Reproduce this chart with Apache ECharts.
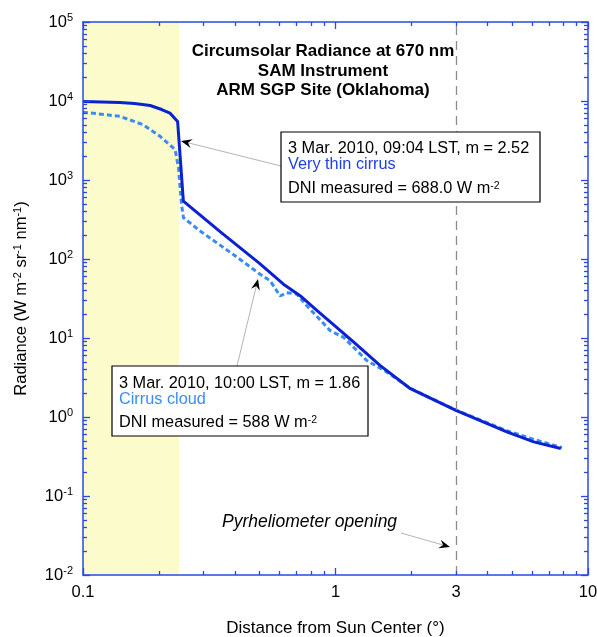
<!DOCTYPE html>
<html><head><meta charset="utf-8">
<script src="https://cdn.jsdelivr.net/npm/echarts@6/dist/echarts.min.js"></script>
<style>html,body{margin:0;padding:0;background:#fff}#c{width:597px;height:637px}</style>
</head><body><div id="c"></div>
<script>
// ---- data ----
const thinX = [0.1, 0.14, 0.16, 0.1845, 0.205, 0.221, 0.237, 0.2497, 0.35, 0.5, 0.622, 0.724, 0.85, 1.0, 1.16, 1.5, 1.98, 3.0, 4.77, 6.1, 7.8];
const thinY = [9860, 9570, 9300, 8770, 7800, 7020, 5510, 540, 220, 88, 48, 34.3, 21.9, 14.0, 9.3, 4.5, 2.28, 1.21, 0.647, 0.484, 0.40];
const cirrusX = [0.1, 0.14, 0.173, 0.202, 0.2316, 0.239, 0.2455, 0.25, 0.291, 0.40, 0.503, 0.551, 0.604, 0.64, 0.703, 0.77, 0.953, 1.076, 1.33, 1.6, 1.98, 3.0, 4.77, 6.1, 7.89];
const cirrusY = [7230, 6400, 5010, 3570, 2430, 1420, 490, 333, 226, 110, 64, 53, 34, 37.5, 36, 25.6, 12.4, 10.2, 5.19, 3.69, 2.3, 1.22, 0.67, 0.52, 0.41];
const sunBand = [0.1, 0.24];
const pyrheliometer = 3;
const xMajorTicks = [0.1, 1, 10];
const xTickLabels = [0.1, 1, 3, 10];
const xMinorTicks = [0.2, 0.3, 0.4, 0.5, 0.6, 0.7, 0.8, 0.9, 2, 3, 4, 5, 6, 7, 8, 9];
const yMajorTicks = [0.01, 0.1, 1, 10, 100, 1000, 10000, 100000];
const yMinorMultipliers = [2, 3, 4, 5, 6, 7, 8, 9];
const yMinorTicks = [];
yMajorTicks.slice(0, -1).forEach(d => yMinorMultipliers.forEach(m => yMinorTicks.push(+(d * m).toPrecision(3))));
const titleLines = ['Circumsolar Radiance at 670 nm', 'SAM Instrument', 'ARM SGP Site (Oklahoma)'];

// ---- style ----
const FONT = '"Liberation Sans", Arial, Helvetica, sans-serif';
const AXIS_BLUE = '#2a48e6';
const THIN_COLOR = '#0a22d2';
const CIRRUS_COLOR = '#3a8cf2';

const chart = echarts.init(document.getElementById('c'), null, {renderer: 'canvas'});

function xAxisDef(pos, ticks, len, showLine, showLabel) {
  return {
    type: 'log', logBase: 10, min: 0.1, max: 10, position: pos, z: 10,
    axisLine: {show: showLine, onZero: false, lineStyle: {color: AXIS_BLUE, width: 1.5}},
    axisTick: {show: true, inside: true, length: len, customValues: ticks, lineStyle: {color: AXIS_BLUE, width: 1.3}},
    axisLabel: showLabel ? {
      show: true, customValues: xTickLabels, margin: 9, color: '#000', fontSize: 16.5, fontFamily: FONT,
      formatter: v => String(+(+v).toPrecision(3))
    } : {show: false},
    splitLine: {show: false}, minorTick: {show: false}
  };
}
function yAxisDef(pos, ticks, len, showLine, showLabel) {
  return {
    type: 'log', logBase: 10, min: 0.01, max: 100000, position: pos, z: 10,
    axisLine: {show: showLine, onZero: false, lineStyle: {color: AXIS_BLUE, width: 1.5}},
    axisTick: {show: true, inside: true, length: len, customValues: ticks, lineStyle: {color: AXIS_BLUE, width: 1.3}},
    axisLabel: showLabel ? {
      show: true, customValues: yMajorTicks, margin: 10, color: '#000', fontFamily: FONT,
      formatter: v => '{b|10}{s|' + Math.round(Math.log10(v)) + '}',
      rich: {b: {fontSize: 16.5, fontFamily: FONT, color: '#000', lineHeight: 19}, s: {fontSize: 11, fontFamily: FONT, color: '#000', verticalAlign: 'top', lineHeight: 19}}
    } : {show: false},
    splitLine: {show: false}, minorTick: {show: false}
  };
}

const xAxes = [
  xAxisDef('bottom', xMajorTicks, 7, true, true),
  xAxisDef('bottom', xMinorTicks, 4, false, false),
  xAxisDef('top', xMajorTicks, 7, true, false),
  xAxisDef('top', xMinorTicks, 4, false, false)
];
Object.assign(xAxes[0], {
  name: 'Distance from Sun Center (°)', nameLocation: 'middle', nameGap: 45,
  nameTextStyle: {fontSize: 17, fontFamily: FONT, color: '#000'}
});
const yAxes = [
  yAxisDef('left', yMajorTicks, 7, true, true),
  yAxisDef('left', yMinorTicks, 4, false, false),
  yAxisDef('right', yMajorTicks, 7, true, false),
  yAxisDef('right', yMinorTicks, 4, false, false)
];
Object.assign(yAxes[0], {
  name: 'Radiance (W m{s|-2} sr{s|-1} nm{s|-1})', nameLocation: 'middle', nameGap: 53,
  nameTextStyle: {fontSize: 16.5, fontFamily: FONT, color: '#000',
    rich: {s: {fontSize: 11, fontFamily: FONT, color: '#000', verticalAlign: 'top', lineHeight: 18}}}
});

const option = {
  animation: false,
  backgroundColor: '#fff',
  textStyle: {fontFamily: FONT},
  grid: {left: 83, right: 9, top: 22, bottom: 62, containLabel: false, outerBoundsMode: 'none'},
  title: {
    text: titleLines.join('\n'), left: 318, top: 37, textAlign: 'center',
    textStyle: {fontSize: 17, fontWeight: 'bold', fontFamily: FONT, color: '#000', lineHeight: 19.5}
  },
  xAxis: xAxes,
  yAxis: yAxes,
  series: [
    {
      name: 'Cirrus cloud', type: 'line', xAxisIndex: 0, yAxisIndex: 0,
      data: cirrusX.map((x, i) => [x, cirrusY[i]]),
      showSymbol: false, z: 3,
      lineStyle: {color: CIRRUS_COLOR, width: 3, type: [5, 3]},
      markArea: {silent: true, itemStyle: {color: '#fbfbcc'}, data: [[{xAxis: sunBand[0]}, {xAxis: sunBand[1]}]]},
      markLine: {silent: true, symbol: 'none', label: {show: false},
        lineStyle: {color: '#8c8c8c', width: 1.3, type: [9, 6]}, data: [{xAxis: pyrheliometer}]}
    },
    {
      name: 'Very thin cirrus', type: 'line', xAxisIndex: 0, yAxisIndex: 0,
      data: thinX.map((x, i) => [x, thinY[i]]),
      showSymbol: false, z: 4,
      lineStyle: {color: THIN_COLOR, width: 3}
    }
  ]
};
chart.setOption(option);

// ---- annotations ----
function arrow(x1, y1, x2, y2) {
  const dx = x2 - x1, dy = y2 - y1, L = Math.hypot(dx, dy);
  const ux = dx / L, uy = dy / L, nx = -uy, ny = ux;
  const hl = 11, hw = 4.5;
  return [
    {type: 'line', shape: {x1, y1, x2: x2 - ux * 6, y2: y2 - uy * 6}, style: {stroke: '#b4b4b4', lineWidth: 1}, z: 10},
    {type: 'polygon', shape: {points: [
      [x2, y2],
      [x2 - ux * hl + nx * hw, y2 - uy * hl + ny * hw],
      [x2 - ux * hl * 0.65, y2 - uy * hl * 0.65],
      [x2 - ux * hl - nx * hw, y2 - uy * hl - ny * hw]
    ]}, style: {fill: '#000'}, z: 10}
  ];
}
function box(x, y, w, h, lines) {
  const els = [{type: 'rect', shape: {x, y, width: w, height: h}, style: {fill: '#fff', stroke: '#000', lineWidth: 1.2}, z: 10}];
  lines.forEach(l => els.push({
    type: 'text', x: x + 7, y: y + l.dy, z: 11,
    style: {text: l.text, fill: l.color || '#000', font: '16.3px ' + FONT, verticalAlign: 'middle',
      rich: {s: {fontSize: 10.5, fontFamily: FONT, fill: '#000', verticalAlign: 'top', lineHeight: 16}, n: {fontSize: 16.3, fontFamily: FONT, fill: '#000', lineHeight: 16}}}
  }));
  return els;
}
const graphics = [].concat(
  arrow(281, 166, 181, 141),
  arrow(237, 366, 258, 279),
  arrow(401, 533, 450, 547),
  box(281, 132, 259, 70, [
    {text: '3 Mar. 2010, 09:04 LST, m = 2.52', dy: 17},
    {text: 'Very thin cirrus', dy: 33, color: '#1f3fe6'},
    {text: '{n|DNI measured = 688.0 W m}{s|-2}', dy: 57}
  ]),
  box(112, 366, 256, 70, [
    {text: '3 Mar. 2010, 10:00 LST, m = 1.86', dy: 18},
    {text: 'Cirrus cloud', dy: 34, color: '#3a8cf2'},
    {text: '{n|DNI measured = 588 W m}{s|-2}', dy: 57}
  ]),
  [{type: 'text', x: 222, y: 522, z: 11, style: {text: 'Pyrheliometer opening', fill: '#000', font: 'italic 17.5px ' + FONT, verticalAlign: 'middle'}}]
);
chart.setOption({graphic: graphics});
</script></body></html>
